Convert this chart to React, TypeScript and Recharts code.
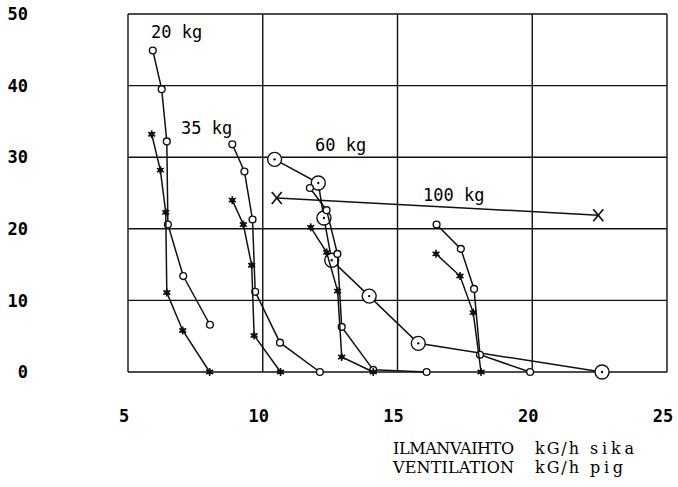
import { CartesianGrid, Scatter, ScatterChart, XAxis, YAxis } from 'recharts';

const xTicks = [5, 10, 15, 20, 25];
const yTicks = [0, 10, 20, 30, 40, 50];

// [ventilation kg/h, value] pairs, one list per curve
const kg20Open: [number, number][] = [[5.92, 44.9], [6.25, 39.5], [6.44, 32.2], [6.48, 20.6], [7.05, 13.4], [8.04, 6.6]];
const kg20Star: [number, number][] = [[5.88, 33.2], [6.2, 28.2], [6.4, 22.3], [6.44, 11.1], [7.03, 5.8], [8.03, 0]];

const kg35Open: [number, number][] = [[8.87, 31.8], [9.32, 28.0], [9.62, 21.3], [9.72, 11.2], [10.64, 4.1], [12.12, 0]];
const kg35Star: [number, number][] = [[8.87, 24.0], [9.28, 20.6], [9.59, 14.9], [9.68, 5.1], [10.66, 0]];

const kg60Big: [number, number][] = [[10.44, 29.7], [12.06, 26.4], [12.27, 21.5], [12.56, 15.6], [13.95, 10.6], [15.77, 4.0], [22.59, 0]];
const kg60Open: [number, number][] = [[11.75, 25.7], [12.37, 22.6], [12.77, 16.5], [12.93, 6.3], [14.1, 0.3], [16.08, 0]];
const kg60Star: [number, number][] = [[11.78, 20.2], [12.37, 16.7], [12.78, 11.3], [12.93, 2.1], [14.1, 0]];

const kg100Open: [number, number][] = [[16.45, 20.6], [17.35, 17.2], [17.84, 11.6], [18.06, 2.4], [19.92, 0]];
const kg100Star: [number, number][] = [[16.43, 16.5], [17.32, 13.4], [17.81, 8.3], [18.1, 0]];
const kg100Cross: [number, number][] = [[10.52, 24.3], [22.45, 21.9]];

const pts = (list: [number, number][]) => list.map(([x, y]) => ({ x, y }));

const INK = '#111';
const lineStyle = { stroke: INK, strokeWidth: 1.5 };

const OpenDot = ({ cx, cy }: any) => (
  <circle cx={cx} cy={cy} r={3.4} fill="#fff" stroke={INK} strokeWidth={1.4} />
);

const StarDot = ({ cx, cy }: any) => (
  <g stroke={INK} strokeWidth={1.6}>
    <line x1={cx} y1={cy - 4} x2={cx} y2={cy + 4} />
    <line x1={cx - 3.5} y1={cy - 2} x2={cx + 3.5} y2={cy + 2} />
    <line x1={cx - 3.5} y1={cy + 2} x2={cx + 3.5} y2={cy - 2} />
    <circle cx={cx} cy={cy} r={1.7} fill={INK} />
  </g>
);

const BigDot = ({ cx, cy }: any) => (
  <g>
    <circle cx={cx} cy={cy} r={7} fill="#fff" stroke={INK} strokeWidth={1.4} />
    <circle cx={cx} cy={cy} r={1.2} fill={INK} />
  </g>
);

const CrossDot = ({ cx, cy }: any) => (
  <g stroke={INK} strokeWidth={1.7}>
    <line x1={cx - 5} y1={cy - 6} x2={cx + 5} y2={cy + 6} />
    <line x1={cx - 5} y1={cy + 6} x2={cx + 5} y2={cy - 6} />
  </g>
);

const tickFont = { fontFamily: 'DejaVu Sans Mono', fontWeight: 'bold' as const, fontSize: 17, fill: '#000' };
const plotFont = { fontFamily: 'DejaVu Sans Mono', fontSize: 17, fill: '#000' };
const typeFont = { fontFamily: 'DejaVu Serif', fontSize: 16, fill: '#000', lengthAdjust: 'spacing' as const };

const XTick = ({ x, y, payload }: any) => (
  <text x={x - 4} y={y} dy="0.71em" textAnchor="middle" {...tickFont}>{payload.value}</text>
);

const YTick = ({ x, y, payload }: any) => (
  <text x={x} y={y} dy="0.36em" textAnchor="end" {...tickFont}>{payload.value}</text>
);

export default function App() {
  return (
    <div style={{ position: 'absolute', left: 0, top: 0, background: '#fff' }}>
      <ScatterChart width={678} height={487} margin={{ top: 14, right: 11, bottom: 55, left: 0 }}>
        <CartesianGrid stroke={INK} strokeWidth={1.4} />
        <XAxis type="number" dataKey="x" domain={[5, 25]} ticks={xTicks} height={60}
          axisLine={false} tickLine={false} tickSize={0} tickMargin={38} tick={(p: any) => <XTick {...p} />} />
        <YAxis type="number" dataKey="y" domain={[0, 50]} ticks={yTicks} width={128}
          axisLine={false} tickLine={false} tickSize={0} tickMargin={100} tick={(p: any) => <YTick {...p} />} />

        <Scatter data={pts(kg20Open)} line={lineStyle} shape={(p: any) => <OpenDot {...p} />} isAnimationActive={false} />
        <Scatter data={pts(kg20Star)} line={lineStyle} shape={(p: any) => <StarDot {...p} />} isAnimationActive={false} />
        <Scatter data={pts(kg35Open)} line={lineStyle} shape={(p: any) => <OpenDot {...p} />} isAnimationActive={false} />
        <Scatter data={pts(kg35Star)} line={lineStyle} shape={(p: any) => <StarDot {...p} />} isAnimationActive={false} />
        <Scatter data={pts(kg60Big)} line={lineStyle} shape={(p: any) => <BigDot {...p} />} isAnimationActive={false} />
        <Scatter data={pts(kg60Open)} line={lineStyle} shape={(p: any) => <OpenDot {...p} />} isAnimationActive={false} />
        <Scatter data={pts(kg60Star)} line={lineStyle} shape={(p: any) => <StarDot {...p} />} isAnimationActive={false} />
        <Scatter data={pts(kg100Open)} line={lineStyle} shape={(p: any) => <OpenDot {...p} />} isAnimationActive={false} />
        <Scatter data={pts(kg100Star)} line={lineStyle} shape={(p: any) => <StarDot {...p} />} isAnimationActive={false} />
        <Scatter data={pts(kg100Cross)} line={lineStyle} shape={(p: any) => <CrossDot {...p} />} isAnimationActive={false} />

        <text x={151} y={38} {...plotFont}>20 kg</text>
        <text x={181} y={134} {...plotFont}>35 kg</text>
        <text x={315} y={151} {...plotFont}>60 kg</text>
        <text x={423} y={201} {...plotFont}>100 kg</text>

        <text x={393} y={454} textLength={121} {...typeFont}>ILMANVAIHTO</text>
        <text x={535} y={454} textLength={44} {...typeFont}>kG/h</text>
        <text x={590} y={454} textLength={44} {...typeFont}>sika</text>
        <text x={393} y={473} textLength={121} {...typeFont}>VENTILATION</text>
        <text x={535} y={473} textLength={44} {...typeFont}>kG/h</text>
        <text x={590} y={473} textLength={33} {...typeFont}>pig</text>
      </ScatterChart>
    </div>
  );
}
